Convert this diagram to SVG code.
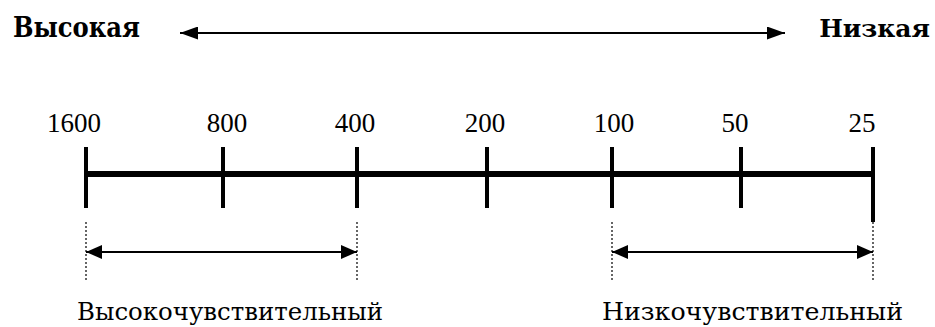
<svg xmlns="http://www.w3.org/2000/svg" width="935" height="327" viewBox="0 0 935 327">
<defs>
<marker id="ah" viewBox="0 0 18 13" refX="18" refY="6.5" markerWidth="18" markerHeight="13" markerUnits="userSpaceOnUse" orient="auto-start-reverse">
<path d="M0,0 L18,6.5 L0,13 Z" fill="#000"/>
</marker>
<marker id="ah2" viewBox="0 0 16 14" refX="16" refY="7" markerWidth="16" markerHeight="14" markerUnits="userSpaceOnUse" orient="auto-start-reverse">
<path d="M0,0 L16,7 L0,14 Z" fill="#000"/>
</marker>
</defs>
<style>
.hdr{font-family:"DejaVu Serif","Liberation Serif",serif;font-weight:bold;font-size:28px;fill:#000}
.hdr2{font-size:25px;text-anchor:end}
.num{font-family:"Liberation Serif","DejaVu Serif",serif;font-size:27px;fill:#000;text-anchor:middle}
.lbl{font-family:"DejaVu Serif","Liberation Serif",serif;font-size:25px;fill:#000}
.tick{stroke:#000;stroke-width:4}
.dot{stroke:#000;stroke-width:1.2;stroke-dasharray:2 2}
.arr{stroke:#000;stroke-width:2;fill:none}
</style>
<g id="label-high"><text class="hdr" x="13" y="37" textLength="127" lengthAdjust="spacingAndGlyphs">Высокая</text></g>
<g id="label-low"><text class="hdr hdr2" x="930" y="37">Низкая</text></g>
<g id="scale">
<line x1="86" y1="174" x2="873" y2="174" stroke="#000" stroke-width="6"/>
<line class="tick" x1="86" y1="147" x2="86" y2="208"/>
<line class="tick" x1="223" y1="147" x2="223" y2="208"/>
<line class="tick" x1="357" y1="147" x2="357" y2="208"/>
<line class="tick" x1="487" y1="147" x2="487" y2="208"/>
<line class="tick" x1="612" y1="147" x2="612" y2="208"/>
<line class="tick" x1="741" y1="147" x2="741" y2="208"/>
<line class="tick" x1="873" y1="147" x2="873" y2="222"/>
</g>
<g id="numbers">
<text class="num" x="74" y="132">1600</text>
<text class="num" x="227" y="132">800</text>
<text class="num" x="355" y="132">400</text>
<text class="num" x="485" y="132">200</text>
<text class="num" x="614" y="132">100</text>
<text class="num" x="735" y="132">50</text>
<text class="num" x="862" y="132">25</text>
</g>
<g id="connectors">
<line class="arr" x1="180" y1="33" x2="785" y2="33" marker-start="url(#ah)" marker-end="url(#ah)"/>
<line class="dot" x1="86" y1="222" x2="86" y2="280"/>
<line class="dot" x1="357" y1="222" x2="357" y2="280"/>
<line class="dot" x1="612" y1="222" x2="612" y2="280"/>
<line class="dot" x1="873" y1="222" x2="873" y2="280"/>
<line class="arr" x1="86" y1="252" x2="357" y2="252" marker-start="url(#ah2)" marker-end="url(#ah2)"/>
<line class="arr" x1="612" y1="252" x2="873" y2="252" marker-start="url(#ah2)" marker-end="url(#ah2)"/>
</g>
<g id="label-hs"><text class="lbl" x="77" y="320" textLength="306" lengthAdjust="spacingAndGlyphs">Высокочувствительный</text></g>
<g id="label-ls"><text class="lbl" x="602" y="320" textLength="301" lengthAdjust="spacingAndGlyphs">Низкочувствительный</text></g>
</svg>
